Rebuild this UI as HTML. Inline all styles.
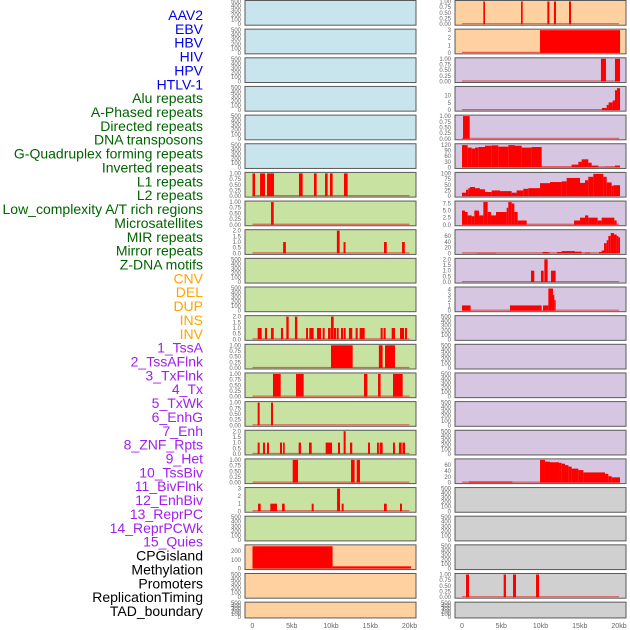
<!DOCTYPE html>
<html><head><meta charset="utf-8"><style>
html,body{margin:0;padding:0;background:#fff;width:630px;height:630px;overflow:hidden}
svg text{font-family:"Liberation Sans",sans-serif}
</style></head><body>
<svg id="chart" width="630" height="630" viewBox="0 0 630 630" xmlns="http://www.w3.org/2000/svg"></svg>
<script>
const labels = ["AAV2","EBV","HBV","HIV","HPV","HTLV-1","Alu repeats","A-Phased repeats","Directed repeats","DNA transposons","G-Quadruplex forming repeats","Inverted repeats","L1 repeats","L2 repeats","Low_complexity A/T rich regions","Microsatellites","MIR repeats","Mirror repeats","Z-DNA motifs","CNV","DEL","DUP","INS","INV","1_TssA","2_TssAFlnk","3_TxFlnk","4_Tx","5_TxWk","6_EnhG","7_Enh","8_ZNF_Rpts","9_Het","10_TssBiv","11_BivFlnk","12_EnhBiv","13_ReprPC","14_ReprPCWk","15_Quies","CPGisland","Methylation","Promoters","ReplicationTiming","TAD_boundary"];
const xTicks = [0,5,10,15,20];
const xTickLabels = ["0","5kb","10kb","15kb","20kb"];
const emptyTicks = [0,100,200,300,400,500];
const t1 = [0,0.25,0.5,0.75,1];
const t1Labels = ["0.00","0.25","0.50","0.75","1.00"];
const t2 = [0,0.5,1,1.5,2];
const t2Labels = ["0.0","0.5","1.0","1.5","2.0"];
const t3 = [0,1,2,3];
// left column segments [startKb, endKb, value]
const segL6 = [[0,0.32,1],[0.96,1.59,1],[1.85,2.74,1],[5.92,6.39,1],[7.83,8.17,1],[9.24,9.57,1],[9.87,10.21,1],[11.65,12.12,1]];
const segL7 = [[2.36,2.7,1]];
const segL8 = [[3.9,4.25,1],[10.75,11.1,2],[11.6,11.85,1],[16.75,17.1,1],[19.05,19.4,1]];
const segL11 = [[0.66,1.17,1],[1.59,1.85,1],[2.36,2.7,1],[3.63,3.89,1],[4.31,4.61,2],[5.41,5.71,2],[6.82,7.07,1],[7.24,7.79,1],[8.22,8.73,1],[8.94,9.19,1],[9.62,9.96,1],[10.0,10.34,2],[10.38,10.68,1],[10.77,10.98,1],[11.27,11.53,1],[11.61,11.87,1],[12.29,12.71,1],[13.14,13.4,1],[13.65,14.29,1],[16.32,16.58,1],[16.7,16.96,1],[17.73,18.15,1],[18.79,19.3,1],[19.42,19.68,1]];
const segL12 = [[10.0,12.76,1],[16.1,16.58,1],[16.88,18.15,1]];
const segL13 = [[2.61,3.59,1],[5.54,6.52,1],[14.2,14.63,1],[15.99,16.32,1],[17.9,19.13,1]];
const segL14 = [[0.66,0.91,1],[2.36,2.61,1]];
const segL15 = [[0.66,0.91,1],[1.34,1.59,1],[1.85,2.1,1],[3.5,3.76,1],[3.89,4.1,1],[5.88,6.18,1],[7.2,7.54,1],[9.32,10.13,1],[10.89,11.15,1],[11.61,11.87,2],[12.42,12.71,1],[14.71,14.97,1],[15.86,16.1,1],[16.2,16.58,1],[17.9,18.15,1],[18.66,19.0,1],[19.1,19.43,1]];
const segL16 = [[5.12,5.8,1],[12.55,13.01,1],[13.27,13.69,1]];
const segL17 = [[0.7,1.04,1],[2.27,3.12,1],[3.76,4.1,1],[7.54,7.79,1],[10.77,11.15,3],[11.36,11.61,1],[16.75,17.1,1],[18.79,19.04,1]];
const segL19 = [[0,10.2,255],[10.2,20.2,25]];
// right column
const segR0 = [[2.72,2.93,1],[7.52,7.73,1],[10.87,11.13,1],[11.72,11.97,1],[13.63,13.89,1]];
const segR1 = [[9.94,20.13,3]];
const segR2 = [[17.7,18.34,1],[19.49,20.13,1]];
const segR3 = [[17.83,18.43,1.5],[18.43,18.68,3.6],[18.68,19.19,5.3],[19.19,19.49,6.6],[19.49,19.75,13.6],[19.75,20.13,15]];
const segR4 = [[0.13,0.98,1]];
const segR5 = [[0,0.72,118],[0.72,1.23,105],[1.23,1.66,100],[1.66,2.08,105],[2.08,2.93,108],[2.93,3.78,115],[3.78,4.63,117],[4.63,5.9,110],[5.9,6.75,118],[6.75,7.6,115],[7.6,8.87,105],[8.87,10.15,108],[10.15,13.97,5],[13.97,14.82,15],[14.82,15.24,30],[15.24,16.09,43],[16.09,16.52,25],[16.52,17.37,10],[17.37,18.22,3],[18.22,19.49,5],[19.49,20.13,10]];
const segR6 = [[0,0.51,15],[0.51,0.81,28],[0.81,1.02,35],[1.02,1.66,40],[1.66,2.29,35],[2.29,2.93,30],[2.93,3.78,18],[3.78,4.84,25],[4.84,6.33,22],[6.33,6.96,15],[6.96,7.81,25],[7.81,8.45,32],[8.45,9.94,35],[9.94,11.21,57],[11.21,12.7,62],[12.7,13.33,65],[13.33,15.03,80],[15.03,15.67,58],[15.67,16.09,70],[16.09,16.73,85],[16.73,18.0,98],[18.0,18.43,85],[18.43,19.07,60],[19.07,19.28,45],[19.28,20.13,48]];
const segR7 = [[0,0.38,5],[0.38,0.72,4.5],[0.72,1.23,3.3],[1.23,1.57,3],[1.57,2.17,5],[2.17,2.72,3.3],[2.72,3.27,8],[3.27,3.69,4.5],[3.69,4.33,3.3],[4.33,5.69,4.5],[5.69,5.9,6],[5.9,6.33,8],[6.33,6.67,7.5],[6.67,7.09,4.5],[7.09,8.24,1.5],[14.27,15.03,1.5],[15.03,15.67,2.5],[15.67,16.09,3.3],[16.09,17.28,2.5],[17.28,17.79,1.5],[17.79,19.4,2.5],[19.4,19.7,1.5]];
const segR8 = [[1.87,4.29,2],[10.28,11.0,5],[11.0,11.21,3],[12.1,12.7,5],[12.7,14.39,8],[14.39,15.24,6],[15.67,16.31,3],[17.45,17.79,5],[17.79,18.09,10],[18.09,18.43,35],[18.43,18.64,45],[18.64,18.94,60],[18.94,19.36,70],[19.36,19.7,65],[19.7,19.92,60],[19.92,20.13,55]];
const segR9 = [[8.79,9.21,1],[10.06,10.4,1],[10.49,10.91,2],[11.34,11.93,1]];
const segR10 = [[0,1.1,1],[6.11,10.15,1],[10.32,11.0,1],[11.0,11.59,4.2],[11.59,11.76,3],[11.76,11.93,2]];
const segR16 = [[0.89,6.41,4],[9.94,10.57,78],[10.57,11.21,72],[11.21,12.36,70],[12.36,12.7,68],[12.7,13.12,65],[13.12,13.55,60],[13.55,13.97,55],[13.97,14.82,48],[14.82,15.46,43],[15.46,18.22,35],[18.22,18.64,30],[18.64,19.07,22],[19.07,20.13,18]];
const segR20 = [[0.51,0.89,1],[5.31,5.6,1],[6.5,6.88,1],[9.43,9.81,1]];

const C={b:"#c8e4ec",g:"#c8e2a2",p:"#ffd0a0",l:"#d6c6e2",y:"#d0d0d0"};
const E=null;
// [bg, segments, ymax, ticks, tickLabels]
const leftPanels=[
 [C.b,E],[C.b,E],[C.b,E],[C.b,E],[C.b,E],[C.b,E],
 [C.g,segL6,1,t1,t1Labels],[C.g,segL7,1,t1,t1Labels],[C.g,segL8,2,t2,t2Labels],[C.g,E],[C.g,E],
 [C.g,segL11,2,t2,t2Labels],[C.g,segL12,1,t1,t1Labels],[C.g,segL13,1,t1,t1Labels],[C.g,segL14,1,t1,t1Labels],
 [C.g,segL15,2,t2,t2Labels],[C.g,segL16,1,t1,t1Labels],[C.g,segL17,3,t3,t3],[C.g,E],
 [C.p,segL19,260,[0,100,200],[0,100,200]],[C.p,E],[C.p,E]];
const rightPanels=[
 [C.p,segR0,1,t1,t1Labels],[C.p,segR1,3,t3,t3],[C.l,segR2,1,t1,t1Labels],[C.l,segR3,15.5,[0,5,10],[0,5,10]],
 [C.l,segR4,1,t1,t1Labels],[C.l,segR5,120,[0,30,60,90,120],[0,30,60,90,120]],[C.l,segR6,100,[0,25,50,75,100],[0,25,50,75,100]],
 [C.l,segR7,8,[0,2.5,5,7.5],["0.0","2.5","5.0","7.5"]],[C.l,segR8,78,[0,20,40,60],[0,20,40,60]],[C.l,segR9,2,t2,t2Labels],
 [C.l,segR10,4.3,[0,1,2,3,4],[0,1,2,3,4]],[C.l,E],[C.l,E],[C.l,E],[C.l,E],[C.l,E],
 [C.l,segR16,78,[0,20,40,60],[0,20,40,60]],[C.y,E],[C.y,E],[C.y,E],[C.y,segR20,1,t1,t1Labels],[C.y,E]];

const svg=document.getElementById('chart');
const NS="http://www.w3.org/2000/svg";
function mk(tag,attrs,parent){const e=document.createElementNS(NS,tag);for(const k in attrs)e.setAttribute(k,attrs[k]);(parent||svg).appendChild(e);return e;}
const labelColor=i=>i<6?"#0000ee":i<19?"#006400":i<24?"#ffa500":i<39?"#a020f0":"#000";
labels.forEach((t,i)=>{
  const e=mk('text',{x:203,y:20+i*13.86,'text-anchor':'end','font-size':14,fill:labelColor(i)});
  
  
  e.textContent=t;
});
const cols=[{px:245,x0:252.5,panels:leftPanels,n:'left'},{px:455,x0:462,panels:rightPanels,n:'right'}];
const pw=171, kbPx=7.85;
cols.forEach(col=>{
  const xs=kb=>col.x0+kb*kbPx;
  col.panels.forEach((p,i)=>{
    const top=i*28.65, h=(i===21)?15.8:24.7;
    const g=mk('g',{});
    
    
    const r=mk('rect',{x:col.px,y:top+0.5,width:pw,height:h,fill:p[0],stroke:'#5a5a5a','stroke-width':1},g);
    
    
    const yb=top+h-0.5, yt=top+1.5;
    const segs=p[1];
    const ymax=segs?p[2]:500, ticks=segs?p[3]:emptyTicks, tl=segs?p[4]:emptyTicks;
    const ys=v=>yb-(v/ymax)*(yb-yt);
    ticks.forEach((tv,k)=>{
      const e=mk('text',{x:col.px-4,y:ys(tv)+2,'text-anchor':'end','font-size':6,fill:'#666'},g);
      
      
      e.textContent=tl[k];
    });
    if(segs){
      const bl=mk('line',{x1:xs(0),x2:xs(20),y1:yb-0.5,y2:yb-0.5,stroke:'#e03030','stroke-width':1.2,opacity:0.7},g);
      
      
      segs.forEach(s=>{
        const b=mk('rect',{x:xs(s[0]),y:ys(s[2]),width:Math.max(0.8,xs(s[1])-xs(s[0])),height:yb-ys(s[2]),fill:'#ff0000'},g);
        
        
      });
    }
  });
  xTicks.forEach((v,k)=>{
    const e=mk('text',{x:xs(v),y:628,'text-anchor':'middle','font-size':7,fill:'#666'});
    
    
    e.textContent=xTickLabels[k];
  });
});
</script>
</body></html>
